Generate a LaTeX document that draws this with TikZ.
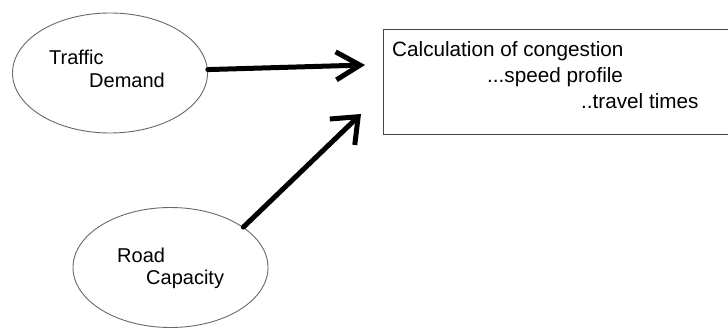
\documentclass[tikz,border=0pt]{standalone}
\usepackage{fontspec}
\setmainfont{Liberation Sans}
\usetikzlibrary{arrows.meta,shapes.geometric}
\definecolor{ellgray}{RGB}{105,105,105}
\definecolor{boxgray}{RGB}{70,70,70}
\begin{document}
\begin{tikzpicture}[x=1pt,y=-1pt,
  bubble/.style={ellipse, draw=ellgray, line width=0.9pt, minimum width=195pt, minimum height=120pt, inner sep=0pt},
  calcbox/.style={rectangle, draw=boxgray, line width=0.9pt, minimum width=362pt, minimum height=105pt, inner sep=0pt},
  lbl/.style={anchor=base west, inner sep=0pt, font=\fontsize{20}{24}\selectfont},
  blbl/.style={anchor=base west, inner sep=0pt, font=\fontsize{20.7}{24}\selectfont},
  flow/.style={line width=5pt, line cap=round}
]
\useasboundingbox (0,0) rectangle (728,331);
\clip (0,0) rectangle (728,331);
\fill[white] (0,0) rectangle (728,331);

\node[bubble] (td) at (110,73) {};
\node[bubble] (rc) at (170.5,267.5) {};
\node[calcbox] (calc) at (564,81.5) {};

\node[lbl] (t1) at (49,65) {Traffic};
\node[lbl] (t2) at (89,88) {Demand};
\node[lbl] (r1) at (117,262) {Road};
\node[lbl] (r2) at (146,284) {Capacity};

\node[blbl] (c1) at (392,57) {Calculation of congestion};
\node[blbl] (c2) at (487,83) {...speed profile};
\node[blbl] (c3) at (581,109) {..travel times};

\coordinate (tip1) at (365,65);
\coordinate (tip2) at (361,114);

\draw[flow, -{Straight Barb[length=24pt,width=28pt]}] (td.2) -- (tip1);
\draw[flow, -{Straight Barb[length=22pt,width=36pt]}] (rc.29) -- (tip2);
\end{tikzpicture}
\end{document}
